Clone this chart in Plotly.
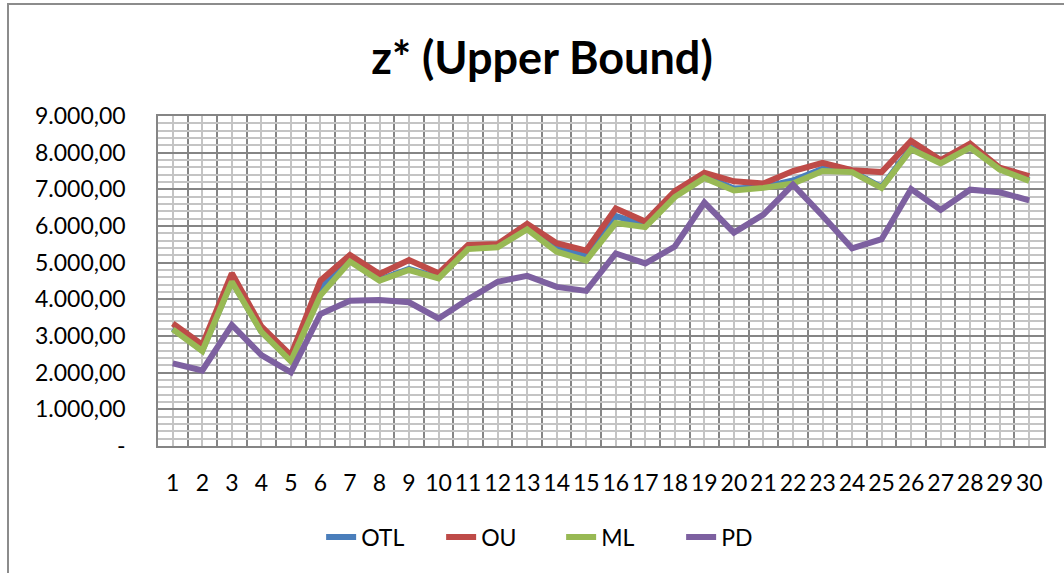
import plotly.graph_objects as go

# data
periods = list(range(1, 31))

otl = [3200, 2600, 4500, 3120, 2330, 4300, 5080, 4540, 4830, 4590,
       5400, 5440, 5950, 5390, 5180, 6270, 6020, 6830, 7360, 7020,
       7060, 7240, 7560, 7490, 7060, 8130, 7730, 8160, 7570, 7250]
ou = [3340, 2760, 4710, 3260, 2470, 4510, 5210, 4690, 5070, 4710,
      5480, 5510, 6060, 5530, 5330, 6480, 6120, 6950, 7450, 7220,
      7160, 7500, 7720, 7520, 7470, 8320, 7800, 8250, 7590, 7360]
ml = [3180, 2590, 4480, 3110, 2310, 4110, 5030, 4510, 4800, 4570,
      5370, 5420, 5910, 5300, 5060, 6080, 5970, 6790, 7310, 6970,
      7040, 7160, 7500, 7470, 7040, 8090, 7710, 8140, 7540, 7230]
pd_vals = [2255, 2060, 3300, 2480, 2010, 3600, 3960, 3980, 3920, 3480,
           4000, 4480, 4640, 4340, 4230, 5250, 4980, 5440, 6640, 5820,
           6310, 7130, 6280, 5390, 5640, 7010, 6440, 6990, 6920, 6700]

series_names = ["OTL", "OU", "ML", "PD"]
series_colors = ["#4A7EBB", "#BE4B48", "#98B954", "#7D60A0"]

y_ticks = [0, 1000, 2000, 3000, 4000, 5000, 6000, 7000, 8000, 9000]
y_labels = ["-", "1.000,00", "2.000,00", "3.000,00", "4.000,00", "5.000,00",
            "6.000,00", "7.000,00", "8.000,00", "9.000,00"]

FONT = "Lato"

fig = go.Figure()
for name, vals, col in zip(series_names, [otl, ou, ml, pd_vals], series_colors):
    fig.add_trace(go.Scatter(x=periods, y=vals, name=name, mode="lines",
                             line=dict(color=col, width=6)))

fig.update_layout(
    width=1064, height=573,
    margin=dict(l=158, r=20, t=116, b=127),
    paper_bgcolor="white", plot_bgcolor="white",
    font=dict(family=FONT, size=23, color="black"),
    title=dict(text="<b>z* (Upper Bound)</b>", x=542/1064, xref="container",
               xanchor="center", y=1 - 58/573, yref="container", yanchor="middle",
               font=dict(family=FONT, size=45, color="black")),
    showlegend=True,
    legend=dict(orientation="h", x=0.455, xanchor="center", y=-0.276, yanchor="middle",
                entrywidth=75, entrywidthmode="pixels",
                font=dict(family=FONT, size=23, color="black")),
)

fig.update_xaxes(
    range=[0.5, 30.5], tickvals=periods, ticktext=[str(p) for p in periods],
    showgrid=True, gridcolor="#c4c4c4", gridwidth=2,
    minor=dict(tickvals=[p + 0.5 for p in range(0, 31)], showgrid=True,
               gridcolor="#858585", gridwidth=1.5),
    showline=True, linecolor="#858585", linewidth=1.5, mirror=True,
    ticks="", zeroline=False, automargin=False, ticklabelstandoff=16,
)
fig.update_yaxes(
    range=[0, 9000], tickvals=y_ticks, ticktext=y_labels,
    showgrid=True, gridcolor="#858585", gridwidth=1.5,
    minor=dict(dtick=200, showgrid=True, gridcolor="#c4c4c4", gridwidth=2),
    showline=True, linecolor="#858585", linewidth=1.5, mirror=True,
    ticks="", zeroline=False, ticklabelstandoff=26, automargin=False,
)

# outer chart border (only top and left edges show in the frame)
fig.add_shape(type="rect", xref="paper", yref="paper",
              x0=(8 - 158) / 886, x1=(1080 - 158) / 886,
              y0=(446 - 590) / 330, y1=(446 - 4) / 330,
              line=dict(color="#8c8c8c", width=2), layer="below")

# drop the browser's default page margin so the figure sits at 0,0
fig.write_html("out.html", config={"displayModeBar": False},
               post_script="document.body.style.margin='0';")
